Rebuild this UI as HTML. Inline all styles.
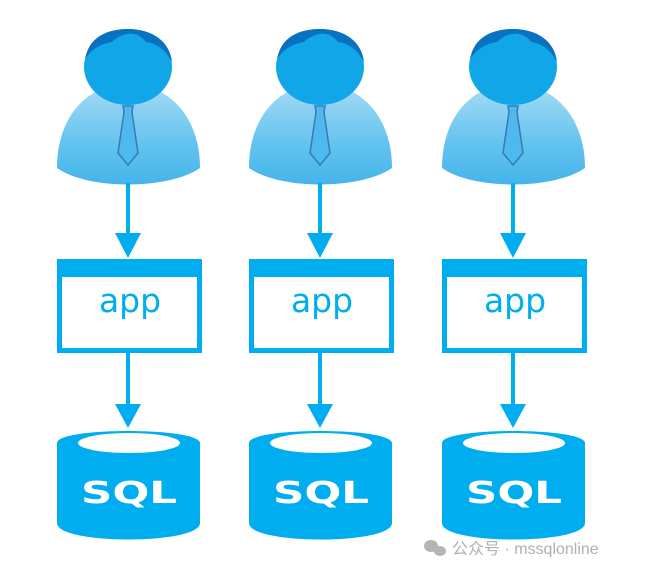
<!DOCTYPE html>
<html><head><meta charset="utf-8"><style>
html,body{margin:0;padding:0;background:#fff;width:658px;height:575px;overflow:hidden}
</style></head><body>
<svg width="658" height="575" viewBox="0 0 658 575" xmlns="http://www.w3.org/2000/svg">
<defs>
<linearGradient id="bg" x1="0" y1="0" x2="0" y2="1">
<stop offset="0" stop-color="#a8dcf5"/><stop offset="0.6" stop-color="#62c3ef"/><stop offset="1" stop-color="#45b4ea"/>
</linearGradient>
<g id="col">
 <path d="M-71,168 C-71,118 -42,84 0,84 C42,84 72,118 72,168 C40,190 -40,190 -71,168 Z" fill="url(#bg)"/>
 <ellipse cx="0" cy="67" rx="44" ry="38" fill="#10a6e8"/>
 <path d="M-43,60 C-40,38 -22,29 0,29 C25,29 42,42 44,62 C38,50 28,43 18,42 C8,28 -8,34 -16,42 C-28,44 -38,50 -43,60 Z" fill="#0872c0"/>
 <path d="M-5,106 L5,106 L4,112 L10,153 L0,165 L-10,153 L-4,112 Z" fill="#4fb8ec" stroke="#3a78b8" stroke-width="1.5"/>
 <rect x="-2" y="183" width="4" height="52" fill="#00aeef"/>
 <path d="M-13,233 L13,233 L0,258 Z" fill="#00aeef"/>
 <rect x="-68.5" y="261.5" width="140" height="89" fill="#fff" stroke="#00aeef" stroke-width="5"/>
 <rect x="-71" y="259" width="145" height="18" fill="#00aeef"/>
 <text x="2" y="312" font-family="'DejaVu Sans','Liberation Sans',sans-serif" font-size="33" fill="#00aeef" text-anchor="middle">app</text>
 <rect x="-2" y="353" width="4" height="54" fill="#00aeef"/>
 <path d="M-13,404 L13,404 L0,428 Z" fill="#00aeef"/>
 <path d="M-71,443 C-71,427 71,427 72,443 L72,523 C72,545 -71,545 -71,523 Z" fill="#00aeef"/>
 <ellipse cx="1" cy="443" rx="51" ry="10" fill="#fff"/>
 <text x="1" y="503" font-family="'DejaVu Sans','Liberation Sans',sans-serif" font-weight="bold" font-size="30" fill="#fff" text-anchor="middle" transform="translate(1,503) scale(1.45,1) translate(-1,-503)">SQL</text>
</g>
</defs>
<use href="#col" x="128"/>
<use href="#col" x="320"/>
<use href="#col" x="513"/>
<g fill="#b5b5b5">
 <ellipse cx="431" cy="546" rx="7" ry="6"/>
 <ellipse cx="440" cy="551" rx="6" ry="5"/>
</g>
<text x="452" y="554" font-family="'Liberation Sans','Noto Sans CJK SC',sans-serif" font-size="16" fill="#b0b0b0">公众号 · mssqlonline</text>
</svg>
</body></html>
